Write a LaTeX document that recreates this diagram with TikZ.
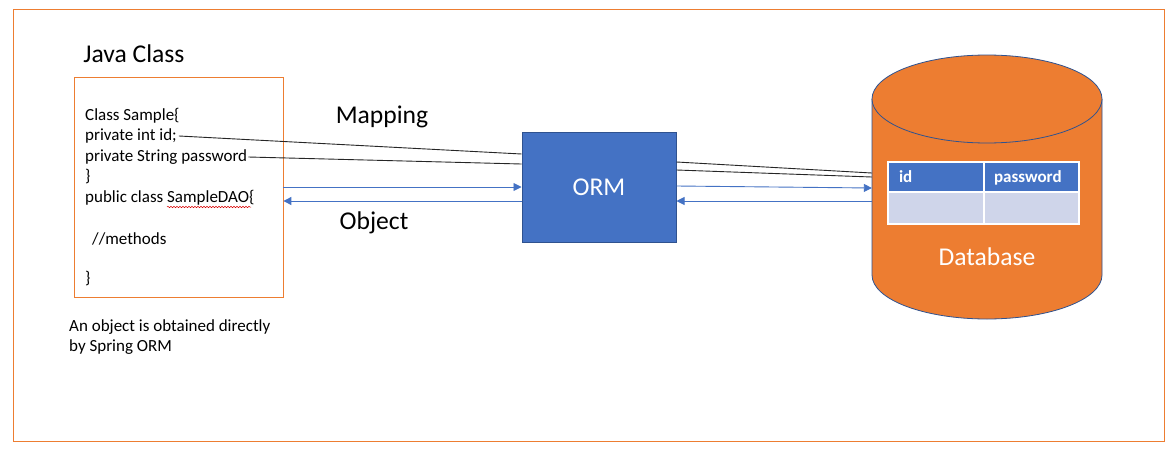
\documentclass[tikz,border=0pt]{standalone}
\usepackage{fontspec}
\setmainfont{Carlito}
\usetikzlibrary{arrows.meta,decorations.pathmorphing,calc}
\definecolor{msorange}{HTML}{ED7D31}
\definecolor{msblue}{HTML}{4472C4}
\definecolor{msdark}{HTML}{2F528F}
\definecolor{mslight}{HTML}{CFD5EA}
\tikzset{
  codeline/.style={anchor=west,inner sep=0pt,font=\fontsize{17}{20}\selectfont},
  bigtext/.style={inner sep=0pt,font=\fontsize{25.6}{30}\selectfont},
  mapline/.style={line width=0.9pt,black!85},
  objarrow/.style={line width=0.9pt,msblue,-{Triangle[length=8pt,width=8pt]}},
  headcell/.style={fill=msblue,draw=white,line width=1.5pt,minimum height=30pt,inner xsep=11pt,align=left,text=white,text depth=0pt,font=\fontsize{17}{20}\selectfont\bfseries},
  rowcell/.style={fill=mslight,draw=white,line width=1.5pt,minimum height=32pt,inner sep=0pt},
}
\begin{document}
\begin{tikzpicture}[x=1pt,y=-1pt]
\useasboundingbox[fill=white] (0,0) rectangle (1174,455);
% outer frame
\draw[msorange,line width=1pt] (13,9) rectangle (1164,441);

% Java class
\node[bigtext] (jtitle) at (134,54) {Java Class};
\node[draw=msorange,line width=0.8pt,minimum width=209pt,minimum height=220pt,inner sep=0pt] (javabox) at (178.5,187) {};
\node[codeline] (l1) at (85,116) {Class Sample\{};
\node[codeline] (l2) at (85,136) {private int id;};
\node[codeline] (l3) at (85,157) {private String password};
\node[codeline] (l4) at (85,177) {\}};
\node[codeline] (l5) at (85,198) {public class SampleDAO\{};
\node[codeline] (l6) at (92,239) {//methods};
\node[codeline] (l7) at (85,279) {\}};
\draw[red!85!black,line width=0.5pt,decorate,decoration={snake,amplitude=0.7pt,segment length=3pt}] (167,207) -- (251,207);

\node[codeline] (note1) at (69,327) {An object is obtained directly};
\node[codeline] (note2) at (69,347) {by Spring ORM};

% ORM
\node[fill=msblue,draw=msdark,line width=1pt,minimum width=154pt,minimum height=110pt,inner sep=0pt,text=white,font=\fontsize{25.6}{30}\selectfont] (orm) at (599,187) {ORM};

\node[bigtext] (mapping) at (382,117) {Mapping};
\node[bigtext] (object) at (374,223) {Object};

% Database cylinder
\fill[msorange] (872,99) -- (872,275) arc[start angle=180,end angle=360,x radius=115pt,y radius=44pt] -- (1102,99) -- cycle;
\draw[msdark,line width=0.8pt] (872,99) -- (872,275) arc[start angle=180,end angle=360,x radius=115pt,y radius=44pt] -- (1102,99);
\draw[msdark,line width=0.8pt,fill=msorange] (987,99) ellipse[x radius=115pt,y radius=44pt];
\node[draw=none,minimum width=230pt,minimum height=264pt,inner sep=0pt] (db) at (987,187) {};
\node[bigtext,text=white] (dblabel) at (987,257) {Database};

% table
\node[headcell,text width=74pt,minimum width=96pt] (hid) at (936,177) {id};
\node[headcell,minimum width=95pt,inner xsep=10pt,text width=75pt] (hpw) at (1031.5,177) {password};
\node[rowcell,minimum width=96pt] (rid) at (936,208) {};
\node[rowcell,minimum width=95pt] (rpw) at (1031.5,208) {};

% connectors left
\draw[mapline] ([xshift=2pt]l2.east) -- ([yshift=33pt]orm.west);
\draw[mapline] ([xshift=1pt]l3.east) -- ([yshift=23pt]orm.west);
\draw[objarrow] (javabox.east) -- (orm.west);
\draw[objarrow] ([yshift=-14pt]orm.west) -- ([yshift=-14pt]javabox.east);

% connectors right
\draw[mapline] ([yshift=25pt]orm.east) -- ([yshift=14pt]db.west);
\draw[mapline] ([yshift=17pt]orm.east) -- ([yshift=10pt]db.west);
\draw[objarrow] ([yshift=1pt]orm.east) -- ([yshift=-1pt]db.west);
\draw[objarrow] ([yshift=-14pt]db.west) -- ([yshift=-14pt]orm.east);
\end{tikzpicture}
\end{document}
